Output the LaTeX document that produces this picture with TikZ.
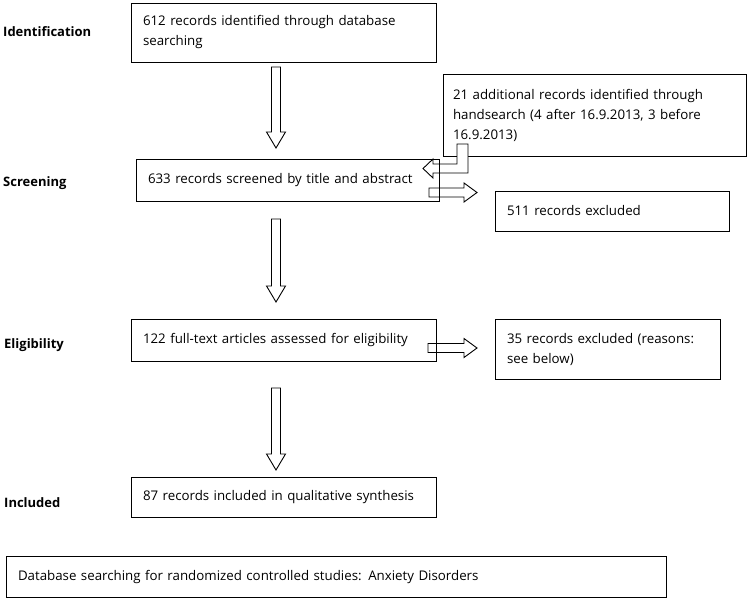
\documentclass[tikz,border=0pt]{standalone}
\usepackage{fontspec}
\setmainfont{Open Sans}

\tikzset{
	box/.style={draw, line width=1pt, align=left, inner xsep=12pt, inner ysep=0pt},
	stage/.style={anchor=west, inner sep=0pt, font=\fontsize{13}{15}\selectfont\bfseries},
	blockarrow/.style={draw, fill=white, line width=0.9pt, line join=miter}
}

\begin{document}
\begin{tikzpicture}[x=1pt, y=-1pt, font=\fontsize{13.3}{20}\selectfont]
	\useasboundingbox (0,0) rectangle (749,600);

	% stage labels
	\node[stage] (lident) at (3,32) {Identification};
	\node[stage] (lscreen) at (3,183) {Screening};
	\node[stage] (lelig) at (4,345) {Eligibility};
	\node[stage] (lincl) at (4,503) {Included};

	% boxes that the arrows overlap
	\node[box, text width=281pt, minimum height=59pt] (ident) at (283.5,32.5)
		{612 records identified through database\\searching};
	\node[box, inner xsep=10pt, text width=283pt, minimum height=82pt] (hand) at (594.5,115)
		{21 additional records identified through\\handsearch (4 after 16.9.2013, 3 before\\16.9.2013)};

	% hollow arrows: x, top, tip / y, start, tip
	\newcommand{\vblock}[3]{\draw[blockarrow] (#1-4.5,#2) -- (#1+4.5,#2) -- (#1+4.5,#3-16) -- (#1+9.5,#3-16) -- (#1,#3) -- (#1-9.5,#3-16) -- (#1-4.5,#3-16) -- cycle;}
	\newcommand{\hblock}[3]{\draw[blockarrow] (#2,#1-4.5) -- (#3-13,#1-4.5) -- (#3-13,#1-9.5) -- (#3,#1) -- (#3-13,#1+9.5) -- (#3-13,#1+4.5) -- (#2,#1+4.5) -- cycle;}

	\vblock{276}{67}{148}
	\vblock{276}{219}{302}
	\vblock{276}{388}{470}
	\hblock{192.5}{429}{477}
	\hblock{348}{428}{477}
	% bent arrow from handsearch
	\draw[blockarrow] (457,144) -- (468,144) -- (468,173) -- (433,173) -- (433,178) -- (423,168.5)
		-- (433,159) -- (433,164) -- (457,164) -- cycle;

	% remaining boxes
	\node[box, text width=279pt, minimum height=42pt] (screen) at (287.5,180)
		{633 records screened by title and abstract};
	\node[box, text width=210pt, minimum height=40pt] (excl1) at (612,211)
		{511 records excluded};
	\node[box, text width=281pt, minimum height=42pt] (elig) at (283.5,340)
		{122 full-text articles assessed for eligibility};
	\node[box, text width=201pt, minimum height=60pt] (excl2) at (607.5,349)
		{35 records excluded (reasons:\\see below)};
	\node[box, text width=281pt, minimum height=40pt] (incl) at (283.5,497)
		{87 records included in qualitative synthesis};
	\node[box, text width=636pt, minimum height=41pt] (db) at (336,576.5)
		{Database searching for randomized controlled studies: Anxiety Disorders};

\end{tikzpicture}
\end{document}
